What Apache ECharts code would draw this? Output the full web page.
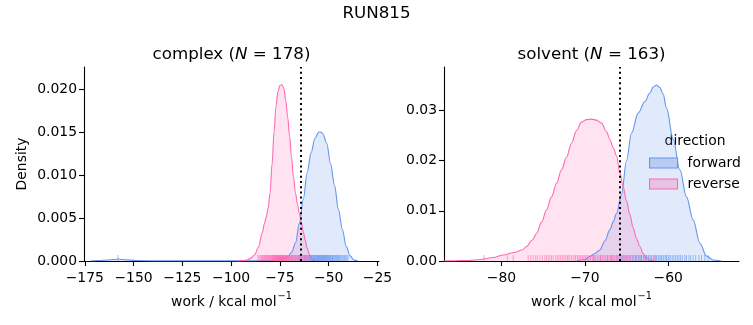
<!DOCTYPE html>
<html><head><meta charset="utf-8">
<script src="https://cdn.jsdelivr.net/npm/echarts@6/dist/echarts.min.js"></script>
<style>html,body{margin:0;padding:0;background:#fff}#c{width:753px;height:325px}</style>
</head><body><div id="c"></div>
<script>
// ---------- data ----------
const complexForwardKde = [[-172,0],[-168,0.00005],[-163,0.00012],[-160,0.00018],[-158,0.00024],[-156,0.00018],[-152,0.0001],[-148,0.00005],[-140,0.00002],[-120,0.00001],[-100,0.00001],[-90,0.00002],[-82,0.00005],[-76,0.0001],[-73,0.0002],[-71,0.0005],[-69,0.0010],[-67,0.0021],[-65,0.0044],[-63,0.0072],[-61,0.0103],[-59,0.0126],[-57,0.0143],[-55,0.0150],[-54,0.0150],[-53,0.0148],[-51,0.0137],[-49,0.0113],[-47,0.0088],[-45,0.0060],[-43,0.0037],[-41,0.0017],[-39,0.0006],[-37,0.0001],[-35,0]];
const complexReverseKde = [[-97,0],[-94,0.00005],[-92,0.0001],[-90,0.0003],[-88,0.0007],[-86,0.0016],[-84,0.0033],[-83,0.0043],[-82,0.0051],[-81,0.0062],[-80,0.0080],[-79,0.0113],[-78,0.0150],[-77,0.0180],[-76,0.0197],[-75,0.0204],[-74,0.0205],[-73,0.0201],[-72,0.0187],[-71,0.0167],[-70,0.0145],[-69,0.0120],[-68,0.0097],[-67,0.0079],[-66,0.0066],[-65,0.0055],[-64,0.0045],[-63,0.0034],[-62,0.0024],[-61,0.0015],[-60,0.0008],[-59,0.0004],[-58,0.0001],[-56,0]];
const solventForwardKde = [[-71,0],[-70,0.0003],[-69.4,0.0009],[-68.8,0.0015],[-68.2,0.0022],[-67.6,0.0040],[-67,0.0062],[-66.6,0.0078],[-66.2,0.0095],[-65.6,0.0132],[-65,0.0200],[-64.4,0.0255],[-63.6,0.0295],[-62.8,0.0318],[-62.2,0.0335],[-61.8,0.0347],[-61.4,0.0351],[-61,0.0346],[-60.6,0.0333],[-60.2,0.0305],[-59.4,0.0243],[-58.6,0.0182],[-57.8,0.0128],[-57,0.0082],[-56.2,0.0036],[-55.4,0.0010],[-54.6,0.0002],[-53.6,0]];
const solventReverseKde = [[-87,0],[-86,0.00003],[-84,0.0001],[-82.6,0.0003],[-81,0.0007],[-79.8,0.0012],[-78.5,0.0017],[-77.5,0.0022],[-77,0.0029],[-76.3,0.0042],[-75.8,0.0055],[-75.2,0.0077],[-74.6,0.0102],[-74,0.0128],[-73.4,0.0155],[-72.8,0.0182],[-72.2,0.0207],[-71.6,0.0235],[-71,0.0260],[-70.4,0.0277],[-69.8,0.0282],[-69.2,0.0283],[-68.6,0.0281],[-68,0.0275],[-67.4,0.0258],[-67,0.0243],[-66.6,0.0226],[-66.2,0.0210],[-65.8,0.0176],[-65.4,0.0148],[-65,0.0120],[-64.6,0.0093],[-64.2,0.0066],[-63.8,0.0045],[-63.4,0.0029],[-63,0.0015],[-62.6,0.0006],[-62.2,0.0002],[-61.6,0]];

const complexForwardRug = [-158.0,-70.2,-68.9,-67.8,-66.9,-66.1,-65.5,-64.9,-64.3,-63.8,-63.2,-62.7,-62.3,-61.9,-61.4,-61.0,-60.6,-60.2,-59.8,-59.5,-59.1,-58.8,-58.4,-58.1,-57.8,-57.5,-57.2,-56.9,-56.6,-56.3,-56.0,-55.8,-55.5,-55.3,-55.0,-54.8,-54.5,-54.3,-54.0,-53.8,-53.5,-53.3,-53.0,-52.8,-52.5,-52.3,-52.0,-51.8,-51.5,-51.2,-50.9,-50.6,-50.3,-50.0,-49.7,-49.4,-49.0,-48.7,-48.3,-48.0,-47.6,-47.2,-46.8,-46.4,-45.9,-45.5,-45.0,-44.6,-44.1,-43.6,-43.0,-42.5,-41.9,-41.3,-40.7,-40.1];
const complexReverseRug = [-86.3,-85.6,-85.1,-84.6,-84.2,-83.8,-83.5,-83.1,-82.8,-82.4,-82.1,-81.7,-81.4,-81.1,-80.9,-80.6,-80.2,-79.9,-79.7,-79.4,-79.1,-78.8,-78.6,-78.4,-78.2,-78.0,-77.8,-77.6,-77.4,-77.2,-77.0,-76.8,-76.7,-76.5,-76.3,-76.1,-76.0,-75.8,-75.7,-75.5,-75.4,-75.2,-75.1,-74.9,-74.8,-74.6,-74.5,-74.3,-74.2,-74.0,-73.9,-73.7,-73.6,-73.4,-73.3,-73.1,-73.0,-72.8,-72.6,-72.4,-72.2,-72.0,-71.8,-71.6,-71.4,-71.1,-70.9,-70.6,-70.4,-70.1,-69.8,-69.4,-69.1,-68.8,-68.5,-68.1,-67.7,-67.3,-66.9,-66.4,-66.0,-65.5,-65.1,-64.6,-64.2,-63.3,-62.4,-61.5,-60.4];
const solventForwardRug = [-68.9,-68.1,-67.3,-66.8,-66.4,-66.1,-65.8,-65.5,-65.3,-65.1,-64.9,-64.7,-64.5,-64.3,-64.1,-63.9,-63.8,-63.6,-63.5,-63.3,-63.2,-63.0,-62.9,-62.7,-62.6,-62.4,-62.3,-62.1,-62.0,-61.8,-61.7,-61.5,-61.4,-61.2,-61.1,-60.9,-60.8,-60.6,-60.5,-60.3,-60.2,-60.0,-59.9,-59.7,-59.5,-59.3,-59.1,-58.9,-58.7,-58.5,-58.3,-58.0,-57.8,-57.5,-57.3,-57.0,-56.7,-56.3,-56.0,-55.6,-55.2];
const solventReverseRug = [-82.1,-79.3,-78.6,-76.8,-76.5,-76.2,-75.9,-75.7,-75.4,-75.1,-74.8,-74.6,-74.4,-74.2,-74.0,-73.8,-73.5,-73.3,-73.1,-72.9,-72.7,-72.5,-72.3,-72.1,-72.0,-71.8,-71.6,-71.4,-71.2,-71.1,-70.9,-70.8,-70.6,-70.5,-70.3,-70.2,-70.0,-69.9,-69.7,-69.6,-69.4,-69.3,-69.1,-69.0,-68.8,-68.7,-68.5,-68.4,-68.2,-68.1,-67.9,-67.8,-67.6,-67.5,-67.3,-67.2,-67.0,-66.9,-66.7,-66.6,-66.4,-66.2,-66.0,-65.8,-65.6,-65.4,-65.2,-65.0,-64.7,-64.5,-64.2,-63.9,-63.5,-63.2,-62.8,-62.4,-61.6];

const complexMarker = -64.5;
const solventMarker = -65.8;

const complexXTicks = [-175,-150,-125,-100,-75,-50,-25];
const complexYTicks = [0,0.005,0.010,0.015,0.020];
const solventXTicks = [-80,-70,-60];
const solventYTicks = [0,0.01,0.02,0.03];

const complexXRange = [-175.4,-24.2];
const complexYRange = [0,0.02256];
const solventXRange = [-86.9,-51.5];
const solventYRange = [0,0.0387];

const suptitle = 'RUN815';
const complexN = 178, solventN = 163;
const legendTitle = 'direction';
const directions = ['forward','reverse'];
// ---------------------------------------------------

const FONT = 'DejaVu Sans';
const BLUE = '#6495ed', PINK = '#ff69b4';
const minus = v => (v < 0 ? '\u2212' : '') + Math.abs(v);
const axisNameRich = {
  a: {fontFamily: FONT, fontSize: 13.9, color: '#000', lineHeight: 22},
  s: {fontFamily: FONT, fontSize: 9.7, color: '#000', verticalAlign: 'top', lineHeight: 10, padding: [0, 0, 0, 1]}
};

function xAxis(gi, range, ticks) {
  return {
    type: 'value', gridIndex: gi, min: range[0], max: range[1],
    splitLine: {show: false},
    axisLine: {show: true, onZero: false, lineStyle: {color: '#000', width: 1.1}},
    axisTick: {show: true, length: 5, lineStyle: {color: '#000', width: 1.1}, customValues: ticks},
    axisLabel: {customValues: ticks, formatter: v => minus(v), color: '#000', fontFamily: FONT, fontSize: 13.9, margin: 10},
    name: '{a|work / kcal mol}{s|\u22121}', nameLocation: 'middle', nameGap: 30,
    nameTextStyle: {rich: axisNameRich}
  };
}
function yAxis(gi, range, ticks, dec, name) {
  return {
    type: 'value', gridIndex: gi, min: range[0], max: range[1],
    splitLine: {show: false},
    axisLine: {show: true, onZero: false, lineStyle: {color: '#000', width: 1.1}},
    axisTick: {show: true, length: 5, lineStyle: {color: '#000', width: 1.1}, customValues: ticks},
    axisLabel: {customValues: ticks, formatter: v => v.toFixed(dec), color: '#000', fontFamily: FONT, fontSize: 13.9, margin: 7},
    name: name || '', nameLocation: 'middle', nameGap: 55, nameRotate: 90,
    nameTextStyle: {color: '#000', fontFamily: FONT, fontSize: 13.9}
  };
}
function kde(name, data, gi, color, fill, marker) {
  const s = {
    type: 'line', name, data, xAxisIndex: gi, yAxisIndex: gi,
    smooth: 0.35, smoothMonotone: 'x', symbol: 'none',
    lineStyle: {color, width: 1.1}, itemStyle: {color},
    areaStyle: {color: fill, origin: 'start'}, z: 2, silent: true
  };
  if (marker !== undefined) {
    s.markLine = {silent: true, symbol: 'none', label: {show: false},
      lineStyle: {color: '#000', type: [2, 3.2], width: 2, cap: 'butt'},
      data: [{xAxis: marker}], z: 5};
  }
  return s;
}
function rug(name, vals, gi, color) {
  return {
    type: 'scatter', name, xAxisIndex: gi, yAxisIndex: gi,
    data: vals.map(v => [v, 0]),
    symbol: 'rect', symbolSize: [1, 6], symbolOffset: [0, -3],
    itemStyle: {color, opacity: 0.6}, z: 3, silent: true
  };
}
const titleText = (label, n) => `{a|${label} (}{i|N}{a| = ${n})}`;
const titleRich = {a: {fontFamily: FONT, fontSize: 16.7, fill: '#000'}, i: {fontFamily: FONT, fontSize: 16.7, fontStyle: 'italic', fill: '#000'}};

const chart = echarts.init(document.getElementById('c'), null, {renderer: 'canvas'});
chart.setOption({
  animation: false,
  grid: [
    {left: 84, right: 374, top: 67, bottom: 64},
    {left: 444, right: 14, top: 67, bottom: 64}
  ],
  xAxis: [xAxis(0, complexXRange, complexXTicks), xAxis(1, solventXRange, solventXTicks)],
  yAxis: [yAxis(0, complexYRange, complexYTicks, 3, 'Density'), yAxis(1, solventYRange, solventYTicks, 2)],
  legend: {
    data: [
      {name: directions[0], icon: 'rect', itemStyle: {color: '#b7cbf3', borderColor: BLUE, borderWidth: 1.1}},
      {name: directions[1], icon: 'rect', itemStyle: {color: '#e6c2e3', borderColor: PINK, borderWidth: 1.1}}
    ],
    orient: 'vertical', left: 649, top: 156, padding: 0, itemWidth: 28, itemHeight: 10, itemGap: 7,
    textStyle: {color: '#000', fontFamily: FONT, fontSize: 13.9, padding: [0, 0, 0, 5]},
    selectedMode: false
  },
  graphic: [
    {type: 'text', left: 'center', top: 5, style: {text: suptitle, fontFamily: FONT, fontSize: 16.7, fill: '#000'}},
    {type: 'text', x: 231.5, y: 54.5, style: {text: titleText('complex', complexN), rich: titleRich, align: 'center', verticalAlign: 'middle'}},
    {type: 'text', x: 591.5, y: 54.5, style: {text: titleText('solvent', solventN), rich: titleRich, align: 'center', verticalAlign: 'middle'}},
    {type: 'text', x: 695, y: 141, style: {text: legendTitle, fontFamily: FONT, fontSize: 13.9, fill: '#000', align: 'center', verticalAlign: 'middle'}}
  ],
  series: [
    kde(directions[0], complexForwardKde, 0, BLUE, 'rgba(100,149,237,0.28)', complexMarker),
    kde(directions[1], complexReverseKde, 0, PINK, 'rgba(255,105,180,0.27)'),
    rug('complex forward rug', complexForwardRug, 0, BLUE),
    rug('complex reverse rug', complexReverseRug, 0, PINK),
    kde(directions[0], solventForwardKde, 1, BLUE, 'rgba(100,149,237,0.28)', solventMarker),
    kde(directions[1], solventReverseKde, 1, PINK, 'rgba(255,105,180,0.27)'),
    rug('solvent forward rug', solventForwardRug, 1, BLUE),
    rug('solvent reverse rug', solventReverseRug, 1, PINK)
  ]
});
</script>
</body></html>
